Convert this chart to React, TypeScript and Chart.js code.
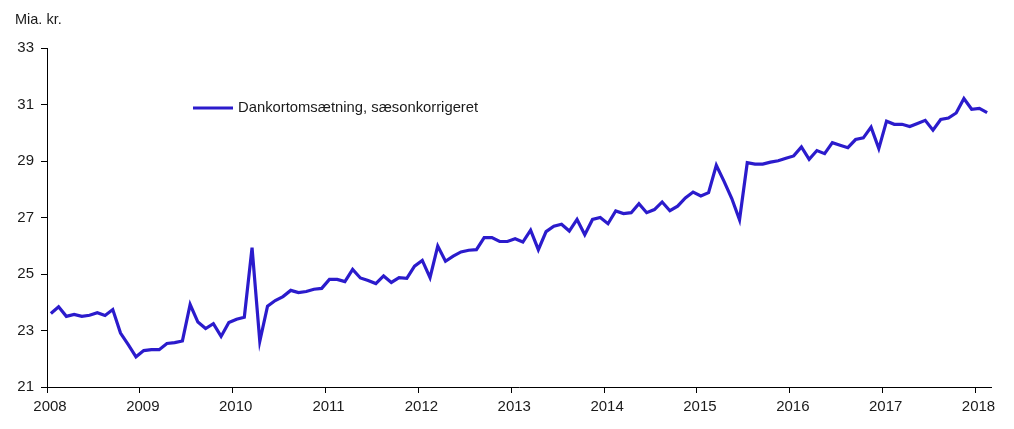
import React, { useEffect, useRef } from "react";
import { Chart, registerables } from "chart.js";

Chart.register(...registerables);

const startYear = 2008;
const yearTicks = [2008, 2009, 2010, 2011, 2012, 2013, 2014, 2015, 2016, 2017, 2018];
const yTicks = [21, 23, 25, 27, 29, 31, 33];
const seriesLabel = "Dankortomsætning, sæsonkorrigeret";
const unitLabel = "Mia. kr.";

// Monthly values, Jan 2008 - Feb 2018
const v2008 = [23.6, 23.84, 23.5, 23.57, 23.5, 23.54, 23.63, 23.53, 23.74, 22.91, 22.5, 22.07];
const v2009 = [22.29, 22.32, 22.32, 22.54, 22.57, 22.63, 23.92, 23.3, 23.07, 23.24, 22.79, 23.28];
const v2010 = [23.4, 23.47, 25.93, 22.62, 23.86, 24.06, 24.2, 24.42, 24.34, 24.38, 24.46, 24.49];
const v2011 = [24.81, 24.81, 24.73, 25.16, 24.86, 24.77, 24.66, 24.93, 24.7, 24.87, 24.85, 25.28];
const v2012 = [25.48, 24.87, 25.99, 25.45, 25.63, 25.78, 25.84, 25.86, 26.29, 26.29, 26.15, 26.15];
const v2013 = [26.25, 26.13, 26.55, 25.86, 26.5, 26.69, 26.76, 26.52, 26.93, 26.39, 26.93, 27.0];
const v2014 = [26.78, 27.23, 27.14, 27.17, 27.49, 27.17, 27.28, 27.55, 27.24, 27.4, 27.69, 27.9];
const v2015 = [27.76, 27.88, 28.85, 28.28, 27.67, 26.92, 28.94, 28.89, 28.89, 28.96, 29.01, 29.1];
const v2016 = [29.18, 29.5, 29.06, 29.37, 29.26, 29.65, 29.56, 29.47, 29.76, 29.82, 30.2, 29.44];
const v2017 = [30.41, 30.3, 30.3, 30.22, 30.33, 30.44, 30.09, 30.47, 30.52, 30.7, 31.21, 30.83];
const v2018 = [30.86, 30.71];

const values = [
  ...v2008, ...v2009, ...v2010, ...v2011, ...v2012, ...v2013,
  ...v2014, ...v2015, ...v2016, ...v2017, ...v2018,
];

const LINE_COLOR = "#2b1bcc";
const TEXT_COLOR = "#1a1a1a";
const FONT = "'Liberation Sans', Arial, sans-serif";

export default function App() {
  const ref = useRef<HTMLCanvasElement | null>(null);

  useEffect(() => {
    document.body.style.margin = "0";
    const canvas = ref.current;
    if (!canvas) return;

    const points = values.map((v, i) => ({ x: startYear + (i + 0.5) / 12, y: v }));

    const overlay = {
      id: "overlay",
      afterDraw(chart: any) {
        const ctx = chart.ctx;
        const area = chart.chartArea;
        ctx.save();
        ctx.fillStyle = TEXT_COLOR;
        ctx.font = `14.5px ${FONT}`;
        ctx.textAlign = "left";
        ctx.textBaseline = "middle";
        ctx.fillText(unitLabel, 15, 20);
        // legend
        const lx = area.left + 146;
        const ly = area.top + 60;
        ctx.strokeStyle = LINE_COLOR;
        ctx.lineWidth = 3;
        ctx.beginPath();
        ctx.moveTo(lx, ly);
        ctx.lineTo(lx + 40, ly);
        ctx.stroke();
        ctx.font = `14.8px ${FONT}`;
        ctx.fillText(chart.data.datasets[0].label, lx + 45, ly);
        ctx.restore();
      },
    };

    const chart = new Chart(canvas, {
      type: "line",
      data: {
        datasets: [
          {
            label: seriesLabel,
            data: points,
            borderColor: LINE_COLOR,
            backgroundColor: LINE_COLOR,
            borderWidth: 3.2,
            pointRadius: 0,
            tension: 0,
            borderJoinStyle: "miter",
          },
        ],
      },
      options: {
        animation: false,
        responsive: false,
        maintainAspectRatio: false,
        layout: { padding: { top: 48, right: 23, bottom: 0, left: 0 } },
        plugins: {
          legend: { display: false },
          tooltip: { enabled: false },
        },
        scales: {
          x: {
            type: "linear",
            min: startYear,
            max: 2018 + 2 / 12,
            afterFit: (s: any) => {
              s.height = 42;
            },
            afterBuildTicks: (s: any) => {
              s.ticks = yearTicks.map((v) => ({ value: v }));
            },
            ticks: {
              includeBounds: false,
              autoSkip: false,
              maxRotation: 0,
              padding: 5,
              labelOffset: 3,
              color: TEXT_COLOR,
              font: { family: FONT, size: 15 },
              callback: (v: any) => String(v),
            },
            grid: {
              drawOnChartArea: false,
              drawTicks: true,
              tickLength: 6,
              color: "#000",
            },
            border: { display: true, color: "#000", width: 1 },
          },
          y: {
            type: "linear",
            min: 21,
            max: 33,
            afterFit: (s: any) => {
              s.width = 47;
            },
            afterBuildTicks: (s: any) => {
              s.ticks = yTicks.map((v) => ({ value: v }));
            },
            ticks: {
              padding: 7,
              color: TEXT_COLOR,
              font: { family: FONT, size: 15 },
              callback: (v: any) => String(v),
            },
            grid: {
              drawOnChartArea: false,
              drawTicks: true,
              tickLength: 6,
              color: "#000",
            },
            border: { display: true, color: "#000", width: 1 },
          },
        },
      },
      plugins: [overlay],
    });

    return () => chart.destroy();
  }, []);

  return (
    <div style={{ position: "relative", width: 1014, height: 429 }}>
      <canvas ref={ref} width={1014} height={429} style={{ display: "block" }} />
    </div>
  );
}
